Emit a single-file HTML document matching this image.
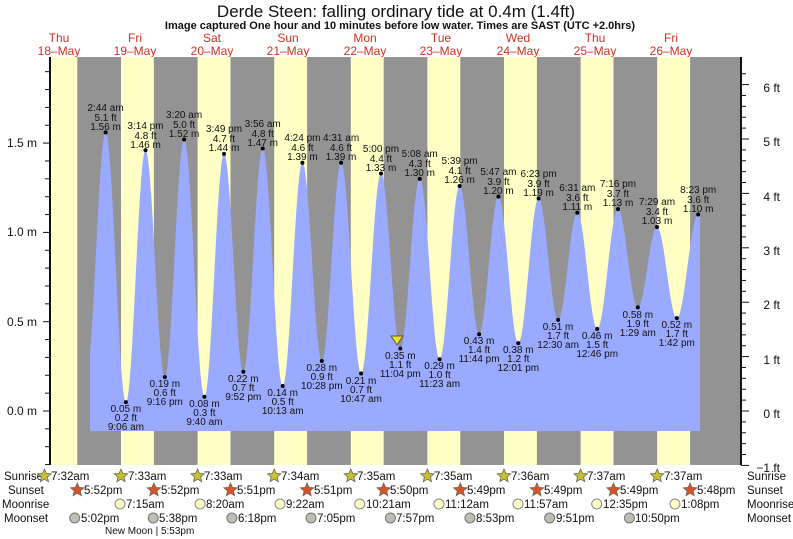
<!DOCTYPE html>
<html><head><meta charset="utf-8"><style>
body{margin:0;background:#fff}
svg{display:block;font-family:"Liberation Sans",sans-serif}
.hl text,.lo text{font-size:10px;fill:#111;text-anchor:middle}
.d{font-size:12px;fill:#cc3322;text-anchor:middle}
.ax{font-size:12px;fill:#111}
.r{font-size:11.5px;fill:#111}
</style></head><body>
<svg width="793" height="539" viewBox="0 0 793 539">
<text x="396" y="17" font-size="17" text-anchor="middle" fill="#111">Derde Steen: falling  ordinary tide at 0.4m (1.4ft)</text>
<text x="400" y="29" font-size="11" font-weight="bold" text-anchor="middle" fill="#111">Image captured One hour and 10 minutes before low water. Times are SAST (UTC +2.0hrs)</text>
<g class="d">
<text x="59" y="42">Thu</text><text x="59" y="55">18–May</text>
<text x="135" y="42">Fri</text><text x="135" y="55">19–May</text>
<text x="212" y="42">Sat</text><text x="212" y="55">20–May</text>
<text x="288" y="42">Sun</text><text x="288" y="55">21–May</text>
<text x="365" y="42">Mon</text><text x="365" y="55">22–May</text>
<text x="441" y="42">Tue</text><text x="441" y="55">23–May</text>
<text x="518" y="42">Wed</text><text x="518" y="55">24–May</text>
<text x="595" y="42">Thu</text><text x="595" y="55">25–May</text>
<text x="671" y="42">Fri</text><text x="671" y="55">26–May</text>
</g>
<rect x="50" y="57" width="691" height="408" fill="#939393"/>
<g fill="#ffffc6">
<rect x="50" y="57" width="27.3" height="408"/>
<rect x="121" y="57" width="32.9" height="408"/>
<rect x="197.6" y="57" width="32.9" height="408"/>
<rect x="274.2" y="57" width="32.9" height="408"/>
<rect x="350.8" y="57" width="32.9" height="408"/>
<rect x="427.4" y="57" width="32.9" height="408"/>
<rect x="504" y="57" width="32.9" height="408"/>
<rect x="580.6" y="57" width="32.9" height="408"/>
<rect x="657.2" y="57" width="32.9" height="408"/>
</g>
<path id="tide" fill="#9aaaff" d=""/>
<g id="ticks" stroke="#111"></g>
<line x1="50" y1="57" x2="50" y2="465" stroke="#111" stroke-width="2"/>
<line x1="741" y1="57" x2="741" y2="465" stroke="#111" stroke-width="2"/>
<g class="ax" text-anchor="end">
<text x="37" y="147">1.5 m</text><text x="37" y="236">1.0 m</text><text x="37" y="326">0.5 m</text><text x="37" y="415">0.0 m</text>
</g>
<g class="ax" text-anchor="end">
<text x="780" y="92">6 ft</text><text x="780" y="146">5 ft</text><text x="780" y="201">4 ft</text><text x="780" y="255">3 ft</text><text x="780" y="309">2 ft</text><text x="780" y="364">1 ft</text><text x="780" y="418">0 ft</text><text x="780" y="472">−1 ft</text>
</g>
<g class="hl">
<text x="105.6" y="111">2:44 am</text><text x="105.6" y="121">5.1 ft</text><text x="105.6" y="130">1.56 m</text>
<text x="145.5" y="129">3:14 pm</text><text x="145.5" y="139">4.8 ft</text><text x="145.5" y="148">1.46 m</text>
<text x="184.1" y="118">3:20 am</text><text x="184.1" y="128">5.0 ft</text><text x="184.1" y="137">1.52 m</text>
<text x="224" y="132">3:49 pm</text><text x="224" y="142">4.7 ft</text><text x="224" y="151">1.44 m</text>
<text x="262.7" y="127">3:56 am</text><text x="262.7" y="137">4.8 ft</text><text x="262.7" y="146">1.47 m</text>
<text x="302.4" y="141">4:24 pm</text><text x="302.4" y="151">4.6 ft</text><text x="302.4" y="160">1.39 m</text>
<text x="341.1" y="141">4:31 am</text><text x="341.1" y="151">4.6 ft</text><text x="341.1" y="160">1.39 m</text>
<text x="381" y="152">5:00 pm</text><text x="381" y="162">4.4 ft</text><text x="381" y="171">1.33 m</text>
<text x="419.7" y="157">5:08 am</text><text x="419.7" y="167">4.3 ft</text><text x="419.7" y="176">1.30 m</text>
<text x="459.6" y="164">5:39 pm</text><text x="459.6" y="174">4.1 ft</text><text x="459.6" y="183">1.26 m</text>
<text x="498.4" y="175">5:47 am</text><text x="498.4" y="185">3.9 ft</text><text x="498.4" y="194">1.20 m</text>
<text x="538.6" y="177">6:23 pm</text><text x="538.6" y="187">3.9 ft</text><text x="538.6" y="196">1.19 m</text>
<text x="577.3" y="191">6:31 am</text><text x="577.3" y="201">3.6 ft</text><text x="577.3" y="210">1.11 m</text>
<text x="618" y="187">7:16 pm</text><text x="618" y="197">3.7 ft</text><text x="618" y="206">1.13 m</text>
<text x="657" y="205">7:29 am</text><text x="657" y="215">3.4 ft</text><text x="657" y="224">1.03 m</text>
<text x="698.2" y="193">8:23 pm</text><text x="698.2" y="203">3.6 ft</text><text x="698.2" y="212">1.10 m</text>
</g>
<g class="lo">
<text x="125.9" y="412">0.05 m</text><text x="125.9" y="421">0.2 ft</text><text x="125.9" y="430">9:06 am</text>
<text x="164.8" y="387">0.19 m</text><text x="164.8" y="396">0.6 ft</text><text x="164.8" y="405">9:16 pm</text>
<text x="204.4" y="407">0.08 m</text><text x="204.4" y="416">0.3 ft</text><text x="204.4" y="425">9:40 am</text>
<text x="243.3" y="382">0.22 m</text><text x="243.3" y="391">0.7 ft</text><text x="243.3" y="400">9:52 pm</text>
<text x="282.7" y="396">0.14 m</text><text x="282.7" y="405">0.5 ft</text><text x="282.7" y="414">10:13 am</text>
<text x="321.8" y="371">0.28 m</text><text x="321.8" y="380">0.9 ft</text><text x="321.8" y="389">10:28 pm</text>
<text x="361.1" y="384">0.21 m</text><text x="361.1" y="393">0.7 ft</text><text x="361.1" y="402">10:47 am</text>
<text x="400.3" y="359">0.35 m</text><text x="400.3" y="368">1.1 ft</text><text x="400.3" y="377">11:04 pm</text>
<text x="439.6" y="369">0.29 m</text><text x="439.6" y="378">1.0 ft</text><text x="439.6" y="387">11:23 am</text>
<text x="479.1" y="344">0.43 m</text><text x="479.1" y="353">1.4 ft</text><text x="479.1" y="362">11:44 pm</text>
<text x="518.3" y="353">0.38 m</text><text x="518.3" y="362">1.2 ft</text><text x="518.3" y="371">12:01 pm</text>
<text x="558.1" y="330">0.51 m</text><text x="558.1" y="339">1.7 ft</text><text x="558.1" y="348">12:30 am</text>
<text x="597.2" y="339">0.46 m</text><text x="597.2" y="348">1.5 ft</text><text x="597.2" y="357">12:46 pm</text>
<text x="637.8" y="318">0.58 m</text><text x="637.8" y="327">1.9 ft</text><text x="637.8" y="336">1:29 am</text>
<text x="676.8" y="328">0.52 m</text><text x="676.8" y="337">1.7 ft</text><text x="676.8" y="346">1:42 pm</text>
</g>
<g id="dots" fill="#000"></g>
<polygon points="391,336 403,336 397,345" fill="#f0e020" stroke="#555" stroke-width="1"/>
<!-- bottom rows -->
<g class="r">
<text x="4" y="480">Sunrise</text><text x="8" y="494">Sunset</text><text x="2" y="508">Moonrise</text><text x="4" y="522">Moonset</text>
<text x="747" y="480">Sunrise</text><text x="747" y="494">Sunset</text><text x="747" y="508">Moonrise</text><text x="747" y="522">Moonset</text>
<text x="105" y="534" font-size="10">New Moon | 5:53pm</text>
</g>
<g id="stars"></g>
<g class="r" font-size="11">
<text x="51" y="480">7:32am</text><text x="128" y="480">7:33am</text><text x="204" y="480">7:33am</text><text x="281" y="480">7:34am</text><text x="357" y="480">7:35am</text><text x="434" y="480">7:35am</text><text x="511" y="480">7:36am</text><text x="587" y="480">7:37am</text><text x="664" y="480">7:37am</text>
<text x="84" y="494">5:52pm</text><text x="161" y="494">5:52pm</text><text x="237" y="494">5:51pm</text><text x="314" y="494">5:51pm</text><text x="390" y="494">5:50pm</text><text x="467" y="494">5:49pm</text><text x="544" y="494">5:49pm</text><text x="620" y="494">5:49pm</text><text x="697" y="494">5:48pm</text>
<text x="126" y="508">7:15am</text><text x="206" y="508">8:20am</text><text x="286" y="508">9:22am</text><text x="366" y="508">10:21am</text><text x="445" y="508">11:12am</text><text x="524" y="508">11:57am</text><text x="603" y="508">12:35pm</text><text x="681" y="508">1:08pm</text>
<text x="81" y="522">5:02pm</text><text x="159" y="522">5:38pm</text><text x="238" y="522">6:18pm</text><text x="317" y="522">7:05pm</text><text x="396" y="522">7:57pm</text><text x="476" y="522">8:53pm</text><text x="556" y="522">9:51pm</text><text x="635" y="522">10:50pm</text>
</g>
</svg>
<script>
var E=[[86.2,0.2],[105.6,1.56],[125.9,0.05],[145.5,1.46],[164.8,0.19],[184.1,1.52],[204.4,0.08],[224,1.44],[243.3,0.22],[262.7,1.47],[282.7,0.14],[302.4,1.39],[321.8,0.28],[341.1,1.39],[361.1,0.21],[381,1.33],[400.3,0.35],[419.7,1.30],[439.6,0.29],[459.6,1.26],[479.1,0.43],[498.4,1.20],[518.3,0.38],[538.6,1.19],[558.1,0.51],[577.3,1.11],[597.2,0.46],[618,1.13],[637.8,0.58],[657,1.03],[676.8,0.52],[698.2,1.10],[718,0.5]];
function Y(m){return 411-178.6*m}
function h(x){for(var i=0;i<E.length-1;i++){var a=E[i],b=E[i+1];if(x>=a[0]&&x<=b[0]){var t=(x-a[0])/(b[0]-a[0]);return a[1]+(b[1]-a[1])*(1-Math.cos(Math.PI*t))/2;}}return 0}
var d="M90,431";for(var x=90;x<=700;x+=0.5)d+=" L"+x+","+Y(h(x)).toFixed(1);d+=" L700,431Z";
document.getElementById('tide').setAttribute('d',d);
var ns='http://www.w3.org/2000/svg';
function el(p,t,a){var e=document.createElementNS(ns,t);for(var k in a)e.setAttribute(k,a[k]);p.appendChild(e);return e}
var dots=document.getElementById('dots');for(var i=1;i<E.length-1;i++)el(dots,'circle',{cx:E[i][0],cy:Y(E[i][1]),r:2});
var tk=document.getElementById('ticks');
for(var m=-0.3;m<=1.95;m+=0.1){var y=Y(m);if(y<57||y>465)continue;var maj=Math.abs(m*2-Math.round(m*2))<0.01;el(tk,'line',{x1:maj?43:45,x2:50,y1:y,y2:y});}
for(var f=-1;f<=6.4;f+=0.2){var y=411-54.4*f;if(y<57||y>466)continue;var maj=Math.abs(f-Math.round(f))<0.01;el(tk,'line',{x1:741,x2:maj?749:746,y1:y,y2:y});}
var st=document.getElementById('stars');
function star(cx,cy,fill){var p=[];for(var i=0;i<10;i++){var r=i%2?3.2:7,a=-Math.PI/2+i*Math.PI/5;p.push((cx+r*Math.cos(a)).toFixed(1)+","+(cy+r*Math.sin(a)).toFixed(1));}el(st,'polygon',{points:p.join(' '),fill:fill,stroke:'#665',"stroke-width":0.8});}
[44.4,121,197.6,274.2,350.8,427.4,504,580.6,657.2].forEach(function(x){star(x,476,'#c8c032')});
[77.3,153.9,230.5,307.1,383.7,460.3,536.9,613.5,690.1].forEach(function(x){star(x,490,'#d8532a')});
[120,200.1,280,359.7,439,518,596.7,675].forEach(function(x){el(st,'circle',{cx:x,cy:504,r:5,fill:'#ffffc6',stroke:'#888'})});
[74.7,153.2,231.9,311,390.4,469.9,549.6,629.4].forEach(function(x){el(st,'circle',{cx:x,cy:518,r:5,fill:'#bdbdb0',stroke:'#777'})});
</script>
</body></html>
